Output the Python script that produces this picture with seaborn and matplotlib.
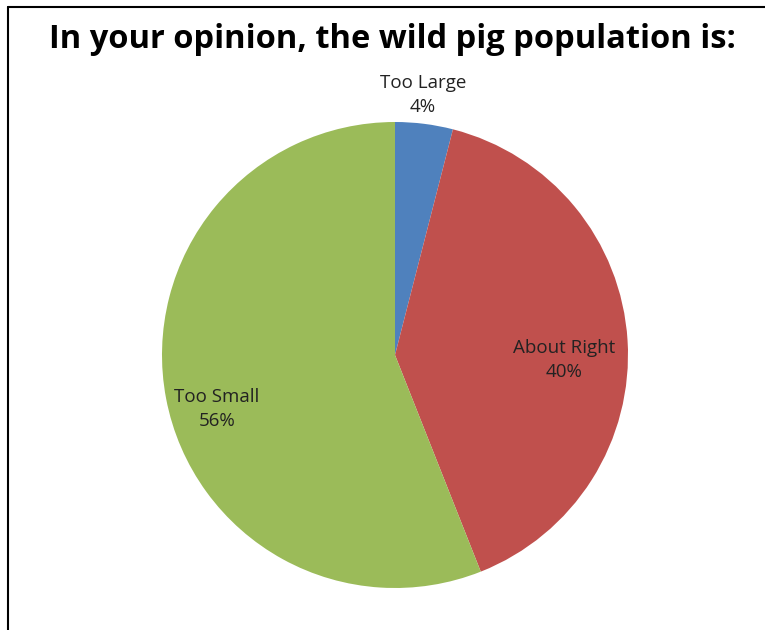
import matplotlib
matplotlib.use("Agg")
import matplotlib.pyplot as plt
import seaborn as sns

categories = ["Too Large", "About Right", "Too Small"]
values = [4, 40, 56]
colors = ["#4F81BD", "#C0504D", "#9BBB59"]
title = "In your opinion, the wild pig population is:"

sns.set_theme(style="white")
plt.rcParams['font.family'] = ['Open Sans', 'DejaVu Sans']

W, H = 765, 630
fig = plt.figure(figsize=(W / 100, H / 100), dpi=100)
fig.patch.set_facecolor("white")

# frame (left and top lines)
fig.add_artist(plt.Line2D([8 / W, 8 / W], [0, 1 - 7 / H], color="black", lw=1.5, transform=fig.transFigure))
fig.add_artist(plt.Line2D([8 / W, 1], [1 - 7 / H, 1 - 7 / H], color="black", lw=1.5, transform=fig.transFigure))

cx, cy, r = 395, 355, 233
ax = fig.add_axes([(cx - r) / W, (H - cy - r) / H, 2 * r / W, 2 * r / H])
ax.pie(values, colors=colors, startangle=90, counterclock=False,
       wedgeprops=dict(linewidth=0))
ax.set_xlim(-1, 1)
ax.set_ylim(-1, 1)
ax.set_aspect("equal")
ax.axis("off")

label_pos = [(0.12, 1.116), (0.725, -0.021), (-0.764, -0.232)]
for cat, v, (x, y) in zip(categories, values, label_pos):
    ax.text(x, y, f"{cat}\n{v}%", ha="center", va="center", fontsize=13.5,
            color="#222222", linespacing=1.4, clip_on=False)

fig.text(392 / W, 1 - 40 / H, title, ha="center", va="center",
         fontsize=23.5, fontweight="bold", color="black")

fig.savefig("out.png", dpi=100, facecolor="white")
